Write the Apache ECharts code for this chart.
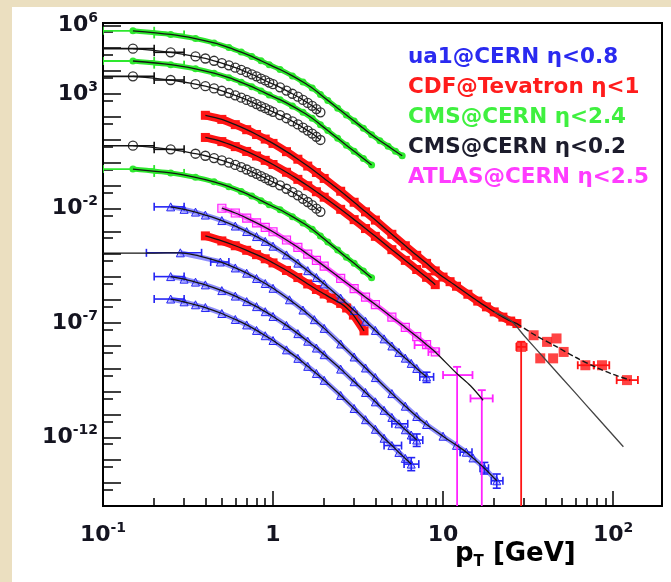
<!DOCTYPE html>
<html><head><meta charset="utf-8">
<script src="https://cdn.jsdelivr.net/npm/echarts@6/dist/echarts.min.js"></script>
<style>html,body{margin:0;padding:0;background:#fff}#c{width:671px;height:582px}</style>
</head><body><div id="c"></div>
<script>
// ---------------- data (pT in GeV, invariant yields) ----------------
// CMS eta<2.4 (green)
const cmsGreenPtA = [0.15,0.25,0.35,0.45,0.55,0.65,0.75,0.85,0.95,1.1,1.3,1.5,1.7,1.9,2.1,2.4,2.7,3.0,3.4,3.8,4.25,4.75,5.25,5.75];
const cmsGreenA = [5.75e5,3.98e5,2.63e5,1.70e5,1.07e5,6.76e4,4.37e4,2.82e4,1.91e4,1.17e4,6.17e3,3.31e3,1.82e3,955,525,240,120,66.1,31.6,16.6,9.12,5.25,3.16,2.00];
const cmsGreenPtB = [0.15,0.25,0.35,0.45,0.55,0.65,0.75,0.85,0.95,1.1,1.3,1.5,1.7,1.9,2.1,2.4,2.7,3.0,3.4,3.8];
const cmsGreenB = [2.75e4,1.91e4,1.26e4,8.13e3,5.13e3,3.24e3,2.09e3,1.35e3,912,562,295,158,87.1,45.7,25.1,11.5,5.75,3.16,1.51,0.794];
const cmsGreenC = [0.525,0.355,0.229,0.145,8.91e-2,5.50e-2,3.47e-2,2.19e-2,1.45e-2,8.71e-3,4.37e-3,2.29e-3,1.23e-3,6.31e-4,3.39e-4,1.51e-4,7.41e-5,3.98e-5,1.86e-5,9.33e-6];
// CMS eta<0.2 (black circles)
const cmsBlackPt = [0.15,0.25,0.35,0.4,0.45,0.5,0.55,0.6,0.65,0.7,0.75,0.8,0.85,0.9,0.95,1.0,1.1,1.2,1.3,1.4,1.5,1.6,1.7,1.8,1.9];
const cmsBlackA = [9.55e4,6.61e4,4.37e4,3.55e4,2.82e4,2.24e4,1.78e4,1.41e4,1.12e4,8.91e3,7.24e3,5.89e3,4.68e3,3.89e3,3.16e3,2.69e3,1.95e3,1.41e3,1.02e3,759,550,407,302,219,158];
const cmsBlackB = [5.89e3,4.07e3,2.69e3,2.19e3,1.74e3,1.38e3,1.10e3,871,692,550,447,363,288,240,195,166,120,87.1,63.1,46.8,33.9,25.1,18.6,13.5,9.77];
const cmsBlackC = [5.50,3.80,2.45,2.00,1.58,1.26,1.00,0.794,0.631,0.501,0.398,0.324,0.257,0.209,0.170,0.141,0.102,7.24e-2,5.13e-2,3.72e-2,2.63e-2,1.91e-2,1.38e-2,9.77e-3,7.08e-3];
// CDF eta<1 (red)
const cdfPtA = [0.4,0.5,0.6,0.7,0.8,0.9,1.0,1.2,1.4,1.6,1.8,2.0,2.5,3.0,3.5,4.0,5.0,6.0,7.0,8.0,9.0,10,11,12,14,16,18,20,22.5,25,27.2];
const cdfRedA = [117,77.6,45.7,27.5,17.0,10.7,6.92,3.02,1.41,0.708,0.372,0.204,5.62e-2,1.86e-2,7.08e-3,3.09e-3,7.41e-4,2.34e-4,8.91e-5,3.98e-5,1.86e-5,1.00e-5,6.31e-6,3.98e-6,1.78e-6,8.91e-7,5.01e-7,3.02e-7,1.78e-7,1.20e-7,9.33e-8];
const cdfHighPt = [28.8,34.1,37.3,40.9,44.4,46.5,51.2,68.7,86.1,120.8];
const cdfHigh = [8.91e-9,2.88e-8,2.82e-9,1.48e-8,2.82e-9,2.09e-8,5.37e-9,1.41e-9,1.41e-9,3.16e-10];
const cdfPtB = [0.4,0.5,0.6,0.7,0.8,0.9,1.0,1.2,1.4,1.6,1.8,2.0,2.5,3.0,3.5,4.0,5.0,6.0,7.0,8.0,9.0];
const cdfRedB = [12.6,8.32,5.01,3.09,1.95,1.26,0.832,0.380,0.186,9.77e-2,5.37e-2,3.09e-2,9.12e-3,3.24e-3,1.32e-3,6.03e-4,1.58e-4,5.37e-5,2.14e-5,9.77e-6,4.68e-6];
const cdfPtC = [0.4,0.5,0.6,0.7,0.8,0.9,1.0,1.2,1.4,1.6,1.8,2.0,2.2,2.5,2.71,2.97,3.43];
const cdfRedC = [6.31e-4,3.80e-4,2.34e-4,1.48e-4,9.55e-5,6.31e-5,4.17e-5,1.95e-5,9.55e-6,5.01e-6,2.88e-6,1.82e-6,1.20e-6,7.08e-7,4.47e-7,2.19e-7,4.47e-8];
const cdfFitTailPt = [27.2,35,45,60,80,100,126];
const cdfFitTail = [9.33e-8,2.82e-8,1.05e-8,3.16e-9,1.12e-9,5.62e-10,3.16e-10];
const cdfFitLinePt = [20,25,30,40,60,80,115];
const cdfFitLine = [3.02e-7,1.26e-7,2.75e-8,2.51e-9,8.71e-11,7.94e-12,3.89e-13];
// UA1 eta<0.8 (blue)
const ua1Pt = [0.25,0.3,0.35,0.4,0.5,0.6,0.7,0.8,0.9,1.0,1.2,1.4,1.6,1.8,2.0,2.5,3.0,3.5,4.0,4.5,5.0,5.5,6.0,6.5,7.0,8.0];
const ua1BlueA = [1.17e-2,9.12e-3,6.92e-3,5.13e-3,2.95e-3,1.70e-3,9.77e-4,5.89e-4,3.63e-4,2.24e-4,9.33e-5,4.07e-5,1.91e-5,9.55e-6,5.01e-6,1.20e-6,3.47e-7,1.17e-7,4.68e-8,2.00e-8,9.77e-9,5.13e-9,2.88e-9,1.70e-9,1.02e-9,4.37e-10];
const ua1BlueC = [1.05e-5,8.13e-6,6.03e-6,4.57e-6,2.57e-6,1.48e-6,8.51e-7,5.13e-7,3.09e-7,1.91e-7,7.76e-8,3.39e-8,1.58e-8,7.94e-9,4.07e-9,9.55e-10,2.69e-10,9.12e-11,3.55e-11,1.51e-11,7.41e-12,3.89e-12,2.14e-12,1.26e-12,7.59e-13];
const ua1BlueD = [1.10e-6,8.32e-7,6.17e-7,4.68e-7,2.57e-7,1.41e-7,8.13e-8,4.68e-8,2.75e-8,1.70e-8,6.61e-9,2.82e-9,1.26e-9,6.17e-10,3.09e-10,6.76e-11,1.82e-11,5.89e-12,2.24e-12,9.12e-13,4.37e-13,2.19e-13,1.20e-13,6.76e-14];
const ua1PtB = [0.285,0.49,0.6,0.7,0.8,0.9,1.0,1.25,1.5,1.75,2.0,2.5,3.0,3.5,4.0,5.0,6.0,7.0,8.0,10,12,13.7,15,17.5,20.7];
const ua1BlueB = [1.15e-4,4.57e-5,2.51e-5,1.48e-5,8.71e-6,5.25e-6,3.24e-6,1.02e-6,3.63e-7,1.38e-7,5.75e-8,1.20e-8,3.24e-9,1.07e-9,4.07e-10,8.13e-11,2.29e-11,8.13e-12,3.63e-12,1.12e-12,4.47e-13,2.24e-13,1.26e-13,4.47e-14,1.26e-14];
const ua1FitLowPt = [0.1,0.15,0.2];
const ua1FitLow = [1.10e-4,1.12e-4,1.12e-4];
// ATLAS eta<2.5 (magenta)
const atlasPt = [0.5,0.6,0.7,0.8,0.9,1.0,1.2,1.4,1.6,1.8,2.0,2.5,3.0,3.5,4.0,5.0,6.0,7.0,8.0,9.0];
const atlasMag = [1.02e-2,6.31e-3,3.80e-3,2.34e-3,1.48e-3,9.55e-4,4.17e-4,2.00e-4,1.00e-4,5.37e-5,3.02e-5,8.71e-6,3.16e-6,1.32e-6,6.31e-7,1.78e-7,6.31e-8,2.51e-8,1.12e-8,5.37e-9];
const atlasFitTailPt = [12,14.5,17.2];
const atlasFitTail = [6.31e-10,1.78e-10,4.17e-11];
// error bars: [pT, y, pTlow, pThigh, ylow, yhigh]
const errGreen = [[0.15,5.75e5,0.1,0.2,0,0],[0.25,3.98e5,0.2,0.3,0,0],[0.15,2.75e4,0.1,0.2,0,0],[0.25,1.91e4,0.2,0.3,0,0],[0.15,0.525,0.1,0.2,0,0],[0.25,0.355,0.2,0.3,0,0]];
const errBlack = [[0.15,9.55e4,0.1,0.2,0,0],[0.25,6.61e4,0.2,0.3,0,0],[0.15,5.89e3,0.1,0.2,0,0],[0.25,4.07e3,0.2,0.3,0,0],[0.15,5.50,0.1,0.2,0,0],[0.25,3.80,0.2,0.3,0,0]];
const errBlue = [[0.25,1.17e-2,0.2,0.3,0,0],[0.25,1.05e-5,0.2,0.3,0,0],[0.25,1.10e-6,0.2,0.3,0,0],[0.285,1.15e-4,0.18,0.38,0,0],[0.49,4.57e-5,0.43,0.55,0,0],
  [8.0,4.37e-10,7.3,8.8,2.5e-10,7e-10],[7.0,7.59e-13,6.4,7.6,4e-13,1.4e-12],[5.6,3.89e-12,5.0,6.2,0,0],[6.5,6.76e-14,5.9,7.2,3.5e-14,1.3e-13],[5.1,4.37e-13,4.5,5.7,0,0],
  [13.7,2.24e-13,12.6,14.8,0,0],[17.5,4.47e-14,16.5,18.5,2.5e-14,8e-14],[20.7,1.26e-14,19.2,22.5,6e-15,2.5e-14]];
const errMag = [[12.1,5.25e-10,10,14.9,1e-16,1.2e-9],[16.9,5.01e-11,14.5,19.6,1e-16,1.15e-10],[7.3,1.07e-8,6.8,7.9,0,0],[8.8,5.37e-9,8.2,9.5,0,0]];
const errRed = [[28.8,8.91e-9,27,31,1e-16,1.5e-8],[120.8,3.16e-10,105,140,0,0],[86.1,1.41e-9,77,95,0,0],[68.7,1.41e-9,62,77,0,0]];
// axis ticks / labels
const xLabelValues = [0.1,1,10,100];
const xMajorTicks = [1,10,100];
const xMinorTicks = [0.2,0.3,0.4,0.5,0.6,0.7,0.8,0.9,2,3,4,5,6,7,8,9,20,30,40,50,60,70,80,90];
const yLabelValues = [1e6,1e3,1e-2,1e-7,1e-12];
const yMajorTicks = [1e-15,1e-14,1e-13,1e-12,1e-11,1e-10,1e-9,1e-8,1e-7,1e-6,1e-5,1e-4,1e-3,1e-2,1e-1,1,10,100,1e3,1e4,1e5,1e6];
const yMinorTicks = [5e-15,5e-14,5e-13,5e-12,5e-11,5e-10,5e-9,5e-8,5e-7,5e-6,5e-5,5e-4,5e-3,5e-2,0.5,5,50,500,5e3,5e4,5e5];
const legendItems = ['ua1@CERN η<0.8','CDF@Tevatron η<1','CMS@CERN η<2.4','CMS@CERN η<0.2','ATLAS@CERN η<2.5'];
const legendColors = ['#2a2af0','#ff1c1c','#3ff03f','#1c1c2c','#ff3cff'];

// ---------------- helpers ----------------
const FONT = 'DejaVu Sans';
function pairs(xs, ys){ return ys.map((y,i)=>[xs[i], y]); }
function band(xs, ys, color, width, symbol, size, item, z){
  return {type:'line', xAxisIndex:0, yAxisIndex:0, data:pairs(xs,ys), symbol:symbol, symbolSize:size,
    showSymbol:true, showAllSymbol:true, smooth:0.2, lineStyle:{color:color, width:width},
    itemStyle:item, z:z||2, silent:true, animation:false};
}
function fit(xs, ys, opts){
  opts = opts || {};
  return {type:'line', xAxisIndex:0, yAxisIndex:0, data:pairs(xs,ys), symbol:'none', smooth:0.3,
    lineStyle:{color:opts.color||'#151515', width:opts.width||1.3, type:opts.type||'solid'}, z:6, silent:true, animation:false};
}
function errSeries(data, color, w){
  return {type:'custom', xAxisIndex:0, yAxisIndex:0, data:data, z:4, silent:true, animation:false, clip:true,
    encode:{x:0,y:1},
    renderItem:function(params, api){
      const x=api.value(0), y=api.value(1), xl=api.value(2), xh=api.value(3), yl=api.value(4), yh=api.value(5);
      const c = api.coord([x,y]);
      const st = {stroke:color, lineWidth:w||1.6, fill:null};
      const ch = [];
      const a = api.coord([xl,y]), b = api.coord([xh,y]);
      ch.push({type:'line', shape:{x1:a[0],y1:c[1],x2:b[0],y2:c[1]}, style:st});
      ch.push({type:'line', shape:{x1:a[0],y1:c[1]-4,x2:a[0],y2:c[1]+4}, style:st});
      ch.push({type:'line', shape:{x1:b[0],y1:c[1]-4,x2:b[0],y2:c[1]+4}, style:st});
      if (yl > 0 && yh > 0){
        const p = api.coord([x,yl]), q = api.coord([x,yh]);
        ch.push({type:'line', shape:{x1:c[0],y1:p[1],x2:c[0],y2:q[1]}, style:st});
        ch.push({type:'line', shape:{x1:c[0]-4,y1:q[1],x2:c[0]+4,y2:q[1]}, style:st});
        if (yl > 1e-15) ch.push({type:'line', shape:{x1:c[0]-4,y1:p[1],x2:c[0]+4,y2:p[1]}, style:st});
      }
      return {type:'group', children:ch};
    }};
}
function expOf(v){ return v > 0 ? Math.round(Math.log10(v)) : Math.round(v); }
const rich = {
  b:{fontFamily:FONT, fontWeight:'bold', fontSize:22, color:'#141420', lineHeight:28},
  s:{fontFamily:FONT, fontWeight:'bold', fontSize:14, color:'#141420', lineHeight:14, verticalAlign:'top'}
};
function expLabel(v){
  const e = expOf(v);
  if (e === 0) return '{b|1}';
  if (e === 1) return '{b|10}';
  return '{b|10}{s|' + e + '}';
}

const green = '#2ee82e', red = '#ff1414', blue = '#2424f4', mag = '#ff22ff';
const series = [
  band(cmsGreenPtA, cmsGreenA, green, 5, 'circle', 7, {color:green}),
  band(cmsGreenPtB, cmsGreenB, green, 5, 'circle', 7, {color:green}),
  band(cmsGreenPtB, cmsGreenC, green, 5, 'circle', 7, {color:green}),
  band(cmsBlackPt, cmsBlackA, 'rgba(0,0,0,0)', 0, 'circle', 9, {color:'rgba(255,255,255,0)', borderColor:'#333', borderWidth:1.3}),
  band(cmsBlackPt, cmsBlackB, 'rgba(0,0,0,0)', 0, 'circle', 9, {color:'rgba(255,255,255,0)', borderColor:'#333', borderWidth:1.3}),
  band(cmsBlackPt, cmsBlackC, 'rgba(0,0,0,0)', 0, 'circle', 9, {color:'rgba(255,255,255,0)', borderColor:'#333', borderWidth:1.3}),
  band(cdfPtA, cdfRedA, red, 8, 'rect', 9, {color:red}),
  band(cdfPtB, cdfRedB, red, 8, 'rect', 9, {color:red}),
  band(cdfPtC, cdfRedC, red, 8, 'rect', 9, {color:red}),
  {type:'scatter', data:pairs(cdfHighPt, cdfHigh), symbol:'rect', symbolSize:10, itemStyle:{color:red}, z:3, silent:true, animation:false},
  band(ua1Pt, ua1BlueA, 'rgba(50,50,255,0.55)', 5, 'triangle', 8, {color:'rgba(140,140,255,0.5)', borderColor:blue, borderWidth:1}),
  band(ua1PtB, ua1BlueB, 'rgba(50,50,255,0.55)', 5, 'triangle', 8, {color:'rgba(140,140,255,0.5)', borderColor:blue, borderWidth:1}),
  band(ua1Pt.slice(0,25), ua1BlueC, 'rgba(50,50,255,0.55)', 5, 'triangle', 8, {color:'rgba(140,140,255,0.5)', borderColor:blue, borderWidth:1}),
  band(ua1Pt.slice(0,24), ua1BlueD, 'rgba(50,50,255,0.55)', 5, 'triangle', 8, {color:'rgba(140,140,255,0.5)', borderColor:blue, borderWidth:1}),
  band(atlasPt, atlasMag, 'rgba(255,40,255,0.8)', 5, 'rect', 8, {color:'rgba(255,120,255,0.4)', borderColor:mag, borderWidth:1.2}),
  errSeries(errGreen, green, 1.8), errSeries(errBlack, '#111', 1.6), errSeries(errBlue, blue, 1.6),
  errSeries(errMag, mag, 1.8), errSeries(errRed, red, 1.8),
  fit(cmsGreenPtA, cmsGreenA), fit(cmsGreenPtB, cmsGreenB), fit(cmsGreenPtB, cmsGreenC),
  fit(cmsBlackPt, cmsBlackA), fit(cmsBlackPt, cmsBlackB), fit(cmsBlackPt, cmsBlackC),
  fit(cdfPtA, cdfRedA), fit(cdfPtB, cdfRedB), fit(cdfPtC, cdfRedC),
  fit(cdfFitTailPt, cdfFitTail, {type:'dashed', width:1.4}),
  fit(cdfFitLinePt, cdfFitLine, {color:'#444', width:1.3}),
  fit(ua1Pt, ua1BlueA), fit(ua1FitLowPt.concat(ua1PtB), ua1FitLow.concat(ua1BlueB)),
  fit(ua1Pt.slice(0,25), ua1BlueC), fit(ua1Pt.slice(0,24), ua1BlueD),
  fit(atlasPt.concat(atlasFitTailPt), atlasMag.concat(atlasFitTail))
];

const xMin = 0.1, xMax = 194, yMin = 1e-15, yMax = 1.26e6;
const option = {
  animation:false,
  backgroundColor:'#ffffff',
  grid:{left:103, right:9, top:23, bottom:76, show:true, borderColor:'#000', borderWidth:2, backgroundColor:'#fff', containLabel:false, outerBoundsMode:'none'},
  xAxis:[
    {type:'log', logBase:10, min:xMin, max:xMax, position:'bottom',
     axisLine:{show:true, lineStyle:{color:'#000', width:2}},
     axisTick:{show:true, inside:true, length:15, lineStyle:{color:'#000', width:1.5}, customValues:xMajorTicks},
     axisLabel:{show:true, customValues:xLabelValues, margin:15, formatter:expLabel, rich:rich, hideOverlap:false, showMinLabel:true, showMaxLabel:true},
     splitLine:{show:false}, minorTick:{show:false}},
    {type:'log', logBase:10, min:xMin, max:xMax, position:'bottom',
     axisLine:{show:false}, axisLabel:{show:false}, splitLine:{show:false},
     axisTick:{show:true, inside:true, length:8, lineStyle:{color:'#000', width:1.5}, customValues:xMinorTicks}}
  ],
  yAxis:[
    {type:'log', logBase:10, min:yMin, max:yMax, position:'left',
     axisLine:{show:true, lineStyle:{color:'#000', width:2}},
     axisTick:{show:true, inside:true, length:18, lineStyle:{color:'#000', width:1.5}, customValues:yMajorTicks},
     axisLabel:{show:true, customValues:yLabelValues, margin:5, formatter:expLabel, rich:rich, hideOverlap:false},
     splitLine:{show:false}},
    {type:'log', logBase:10, min:yMin, max:yMax, position:'left',
     axisLine:{show:false}, axisLabel:{show:false}, splitLine:{show:false},
     axisTick:{show:true, inside:true, length:10, lineStyle:{color:'#000', width:1.5}, customValues:yMinorTicks}}
  ],
  series:series,
  graphic:[
    {type:'rect', left:0, top:0, shape:{width:12, height:582}, style:{fill:'#ebdfc0'}, silent:true},
    {type:'rect', left:0, top:0, shape:{width:671, height:7}, style:{fill:'#ebdfc0'}, silent:true},
    {type:'text', left:455, top:541, silent:true, style:{
      text:'{p|p}{t|T}{p| [GeV]}',
      rich:{p:{fontFamily:FONT, fontWeight:'bold', fontSize:26, color:'#141420', lineHeight:32},
            t:{fontFamily:FONT, fontWeight:'bold', fontSize:15, color:'#141420', lineHeight:15, verticalAlign:'bottom'}}}}
  ].concat(legendItems.map((t,i)=>({type:'text', left:408, top:[46,76,106,136,166][i], silent:true,
      style:{text:t, fill:legendColors[i], font:'bold 21.5px "DejaVu Sans"'}})))
};
const chart = echarts.init(document.getElementById('c'), null, {width:671, height:582});
chart.setOption(option);
</script>
</body></html>
